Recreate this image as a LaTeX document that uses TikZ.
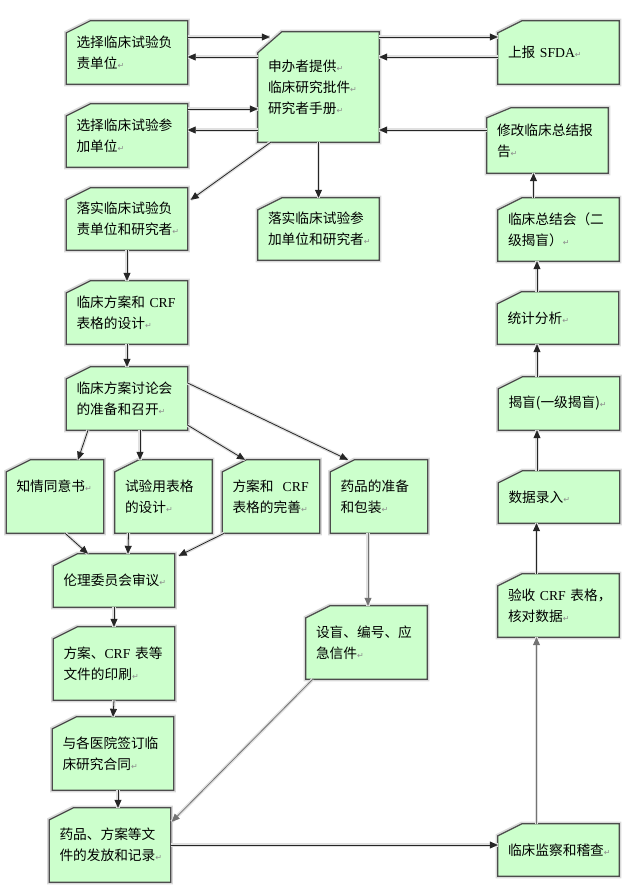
\documentclass[tikz,border=0pt]{standalone}
\usepackage{fontspec}
\setmainfont{Noto Sans CJK SC}
\newfontfamily\latf{Liberation Serif}
\newfontfamily\symf{DejaVu Sans}
\usetikzlibrary{arrows.meta,backgrounds}
\definecolor{cardgreen}{HTML}{CCFFCC}
\newcommand{\retmk}{{\symf\fontsize{8}{8}\selectfont\color{black!45}↵}}
\newcommand{\crf}{{\latf CRF}}
\tikzset{
  card/.style={rectangle, inner xsep=10pt, inner ysep=0pt, align=left,
    font=\fontsize{13.7}{21}\selectfont},
  wide/.style={text width=101pt},
  narrow/.style={text width=77pt},
  cardline/.style={draw=black!70, line width=1.2pt, fill=cardgreen,
    preaction={draw=black!15, line width=4.5pt}},
  arr/.style={-{Triangle[length=8pt,width=7pt]}, draw=black!85, line width=0.8pt,
    preaction={draw=black!12, line width=3.5pt, -}},
  arrg/.style={arr, draw=black!55}
}
\begin{document}
\begin{tikzpicture}[x=1pt, y=-1pt]
        \useasboundingbox (0,0) rectangle (635,892);
        \node[card, wide, minimum height=63pt] (xzfz) at (127,52.5) {选择临床试验负\\责单位\retmk};
        \node[card, wide, minimum height=110pt] (sbz) at (318.5,87) {申办者提供\retmk\\临床研究批件\retmk\\研究者手册\retmk};
        \node[card, wide, minimum height=63pt] (sb) at (558.5,52.5) {上报~{\latf SFDA}\retmk};
        \node[card, wide, minimum height=63pt] (xzcj) at (127,135.5) {选择临床试验参\\加单位\retmk};
        \node[card, wide, minimum height=65pt] (xg) at (547.5,140.5) {修改临床总结报\\告\retmk};
        \node[card, wide, minimum height=62pt] (lsfz) at (127,219) {落实临床试验负\\责单位和研究者\retmk};
        \node[card, wide, minimum height=62pt] (lscj) at (318.5,229) {落实临床试验参\\加单位和研究者\retmk};
        \node[card, wide, minimum height=63pt] (zjh) at (558.5,229.5) {临床总结会（二\\级揭盲）\retmk};
        \node[card, wide, minimum height=63pt] (fasj) at (127,312.5) {临床方案和~\crf\\表格的设计\retmk};
        \node[card, wide, minimum height=52pt] (tjfx) at (558,318) {统计分析\retmk};
        \node[card, wide, minimum height=63pt] (tlh) at (127,398.5) {临床方案讨论会\\的准备和召开\retmk};
        \node[card, wide, minimum height=53pt] (jm) at (559,403.5) {揭盲(一级揭盲)\retmk};
        \node[card, narrow, minimum height=73pt] (zqty) at (55,496.5) {知情同意书\retmk\\\mbox{}};
        \node[card, narrow, minimum height=73pt] (syb) at (163.5,496.5) {试验用表格\\的设计\retmk};
        \node[card, narrow, minimum height=73pt] (wans) at (271,496.5) {方案和~~\crf\\表格的完善\retmk};
        \node[card, narrow, minimum height=73pt] (ypzb) at (379,496.5) {药品的准备\\和包装\retmk};
        \node[card, wide, minimum height=52pt] (sjlr) at (559,497) {数据录入\retmk};
        \node[card, wide, minimum height=53pt] (llwy) at (114,580.5) {伦理委员会审议\retmk};
        \node[card, wide, minimum height=63pt] (ys) at (558.5,605.5) {验收~\crf~表格，\\核对数据\retmk};
        \node[card, wide, minimum height=73pt] (sm) at (366.5,642.5) {设盲、编号、应\\急信件\retmk};
        \node[card, wide, minimum height=73pt] (yx) at (114,663.5) {方案、\crf~表等\\文件的印刷\retmk};
        \node[card, wide, minimum height=73pt] (qd) at (113,753.5) {与各医院签订临\\床研究合同\retmk};
        \node[card, wide, minimum height=74pt] (ff) at (110,845) {药品、方案等文\\件的发放和记录\retmk};
        \node[card, wide, minimum height=52pt] (jc) at (558.5,850) {临床监察和稽查\retmk};
        % card outlines with the cut corner
        \begin{scope}[on background layer]
          \foreach \n/\c in {xzfz/12,sbz/21,sb/12,xzcj/12,xg/10,lsfz/12,lscj/12,zjh/12,
              fasj/12,tjfx/12,tlh/12,jm/12,zqty/12,syb/12,wans/12,ypzb/12,sjlr/12,
              llwy/12,ys/12,sm/12,yx/12,qd/12,ff/12,jc/12}
            \draw[cardline] ([yshift=-\c pt]\n.north west) -- ([xshift=24pt]\n.north west)
              -- (\n.north east) -- (\n.south east) -- (\n.south west) -- cycle;
        \end{scope}
        % sponsor and the two choices
        \draw[arr] ([yshift=15.5pt]xzfz.east) -- ([xshift=12pt,yshift=50pt]sbz.west);
        \draw[arr] ([yshift=30pt]sbz.west) -- ([yshift=-4.5pt]xzfz.east);
        \draw[arr] ([yshift=26.5pt]xzcj.east) -- ([yshift=-22pt]sbz.west);
        \draw[arr] ([yshift=-43pt]sbz.west) -- ([yshift=5.5pt]xzcj.east);
        % sponsor and SFDA
        \draw[arr] ([yshift=50pt]sbz.east) -- ([yshift=15.5pt]sb.west);
        \draw[arr] ([yshift=-4.5pt]sb.west) -- ([yshift=30pt]sbz.east);
        \draw[arr] ([yshift=10.5pt]xg.west) -- ([yshift=-43pt]sbz.east);
        % sponsor down
        \draw[arr] ([xshift=13pt]sbz.south west) -- ([xshift=3pt,yshift=-12pt]lsfz.north east);
        \draw[arr] (sbz.south) -- (lscj.north);
        % left column
        \draw[arr] (lsfz.south) -- (fasj.north);
        \draw[arr] (fasj.south) -- (tlh.north);
        \draw[arr] ([xshift=-39pt]tlh.south) -- ([xshift=23pt]zqty.north);
        \draw[arr] ([xshift=13pt]tlh.south) -- ([xshift=-23.5pt]syb.north);
        \draw[arr] ([yshift=5pt]tlh.south east) -- ([xshift=-26pt]wans.north);
        \draw[arr] ([yshift=15.5pt]tlh.east) -- ([xshift=-31pt]ypzb.north);
        \draw[arr] ([xshift=10pt]zqty.south) -- ([xshift=-26pt]llwy.north);
        \draw[arr] ([xshift=-35pt]syb.south) -- ([xshift=14pt]llwy.north);
        \draw[arr] ([xshift=2pt]wans.south west) -- ([xshift=4pt,yshift=-2pt]llwy.north east);
        \draw[arrg] ([xshift=-11pt]ypzb.south) -- ([xshift=1.5pt]sm.north);
        \draw[arr] (llwy.south) -- (yx.north);
        \draw[arr] (yx.south) -- (qd.north);
        \draw[arr] ([xshift=5pt]qd.south) -- ([xshift=8pt]ff.north);
        \draw[arrg] ([xshift=7pt]sm.south west) -- ([xshift=1pt,yshift=-14pt]ff.north east);
        \draw[arr] (ff.east) -- ([yshift=5pt]jc.west);
        % right column, going up
        \draw[arrg] ([xshift=-22pt]jc.north) -- ([xshift=-22pt]ys.south);
        \draw[arr] ([xshift=-22pt]ys.north) -- ([xshift=-22.5pt]sjlr.south);
        \draw[arr] ([xshift=-22pt]sjlr.north) -- ([xshift=-22pt]jm.south);
        \draw[arr] ([xshift=-22pt]jm.north) -- ([xshift=-21pt]tjfx.south);
        \draw[arr] ([xshift=-21pt]tjfx.north) -- ([xshift=-21.5pt]zjh.south);
        \draw[arr] ([xshift=-25pt]zjh.north) -- ([xshift=-14pt]xg.south);
\end{tikzpicture}
\end{document}
